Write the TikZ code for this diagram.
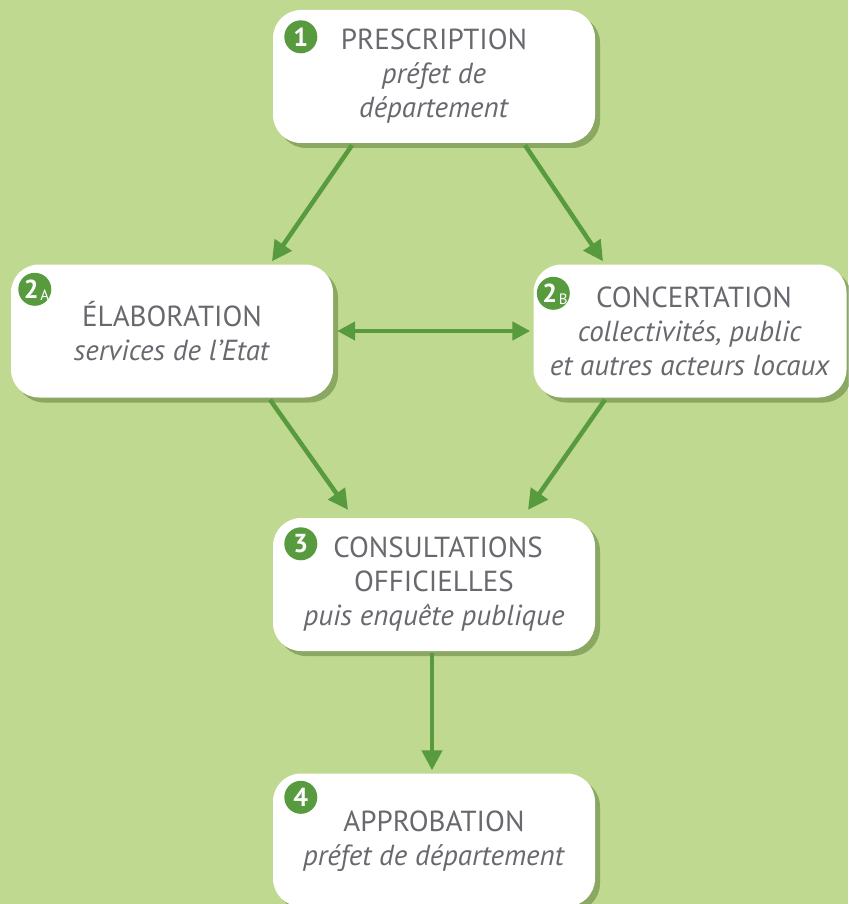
\documentclass[tikz,border=0pt]{standalone}
\usepackage{fontspec}
\setmainfont{PT Sans}
\usetikzlibrary{arrows.meta}
\usetikzlibrary{positioning}
\usetikzlibrary{shadows}
\definecolor{fond}{RGB}{191,217,145}
\definecolor{vert}{RGB}{88,154,62}
\definecolor{texte}{RGB}{104,105,110}
\definecolor{ombre}{RGB}{96,128,58}
\tikzset{
    etape/.style={rectangle, rounded corners=28pt, fill=white, minimum width=322pt,
        minimum height=133pt, align=center, text=texte, inner sep=0pt,
        font=\fontsize{29}{34}\selectfont,
        drop shadow={shadow xshift=5pt, shadow yshift=-5pt, fill=ombre, opacity=0.55}},
    numero/.style={circle, fill=vert, text=white, inner sep=0pt, minimum size=33pt,
        font=\bfseries\fontsize{26}{26}\selectfont},
    lettre/.style={text=white, inner sep=0pt, font=\fontsize{15}{15}\selectfont},
    fleche/.style={draw=vert, line width=4.5pt, -{Triangle[length=20pt,width=20pt]}},
    doublefleche/.style={draw=vert, line width=4.5pt,
        {Triangle[length=18pt,width=18pt]}-{Triangle[length=18pt,width=18pt]}}
}

\begin{document}
\begin{tikzpicture}[x=1pt,y=-1pt]
    \useasboundingbox (0,0) rectangle (848,904);
    \fill[fond] (0,0) rectangle (848,904);

    \node[etape] (prescription) at (434,76.5)
        {PRESCRIPTION\\\textit{préfet de}\\\textit{département}};
    \node[etape] (elaboration) at (172,331)
        {ÉLABORATION\\\textit{services de l'Etat}};
    \node[etape, minimum width=313pt] (concertation) at (690,331)
        {\hspace*{8pt}CONCERTATION\\\textit{collectivités, public}\\\textit{et autres acteurs locaux}};
    \node[etape] (consultations) at (434,584.5)
        {\hspace*{8pt}CONSULTATIONS\\OFFICIELLES\\\textit{puis enquête publique}};
    \node[etape] (approbation) at (434,840)
        {\\[-10pt]APPROBATION\\\textit{préfet de département}};

    \node[numero] (n1) at ([shift={(28,27)}]prescription.north west) {1};
    \node[numero] (n2a) at ([shift={(24,25)}]elaboration.north west) {\hspace*{-7pt}2};
    \node[lettre] (la) at ([shift={(10,6)}]n2a.center) {A};
    \node[numero] (n2b) at ([shift={(20,29)}]concertation.north west) {\hspace*{-7pt}2};
    \node[lettre] (lb) at ([shift={(10,6)}]n2b.center) {B};
    \node[numero] (n3) at ([shift={(28,26)}]consultations.north west) {3};
    \node[numero] (n4) at ([shift={(28,24)}]approbation.north west) {4};

    \draw[fleche] ([shift={(-82,2)}]prescription.south) -- ([shift={(100,-3)}]elaboration.north);
    \draw[fleche] ([shift={(91,2)}]prescription.south) -- ([shift={(-87,-3)}]concertation.north);
    \draw[fleche] ([shift={(98,2)}]elaboration.south) -- ([shift={(-86,-8)}]consultations.north);
    \draw[fleche] ([shift={(-85,2)}]concertation.south) -- ([shift={(94,-8)}]consultations.north);
    \draw[fleche] ([shift={(-2,2)}]consultations.south) -- ([shift={(-2,-3)}]approbation.north);
    \draw[doublefleche] ([xshift=4pt]elaboration.east) -- ([xshift=-3pt]concertation.west);
\end{tikzpicture}
\end{document}
